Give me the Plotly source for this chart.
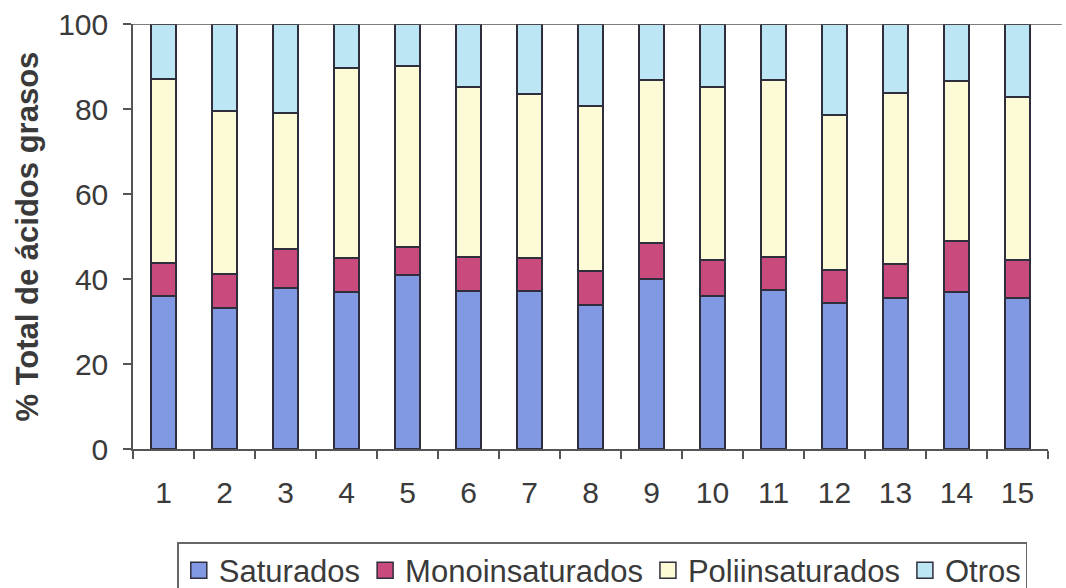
import plotly.graph_objects as go

categories = [str(i) for i in range(1, 16)]
saturados = [36.0, 33.1, 38.0, 37.0, 40.9, 37.2, 37.2, 33.9, 39.9, 36.0, 37.4, 34.4, 35.6, 37.0, 35.5]
monoinsaturados = [7.8, 8.1, 9.0, 8.0, 6.7, 8.0, 7.7, 8.0, 8.5, 8.5, 7.7, 7.7, 7.9, 11.9, 9.0]
poliinsaturados = [43.3, 38.4, 32.0, 44.6, 42.6, 40.0, 38.6, 38.9, 38.4, 40.6, 41.7, 36.5, 40.2, 37.8, 38.3]
otros = [12.9, 20.4, 21.0, 10.4, 9.8, 14.8, 16.5, 19.2, 13.2, 14.9, 13.2, 21.4, 16.3, 13.3, 17.2]
y_ticks = [0, 20, 40, 60, 80, 100]

series = [
    ("Saturados", saturados, "#8199e2"),
    ("Monoinsaturados", monoinsaturados, "#c94a7c"),
    ("Poliinsaturados", poliinsaturados, "#fdfad6"),
    ("Otros", otros, "#bde6f5"),
]
edge = "#2e2e3c"
txt = "#3a3a3a"
font_family = "Liberation Sans, Arial, sans-serif"

fig = go.Figure()
for name, vals, col in series:
    fig.add_trace(go.Bar(
        x=categories, y=vals, name=name, showlegend=False,
        marker=dict(color=col, line=dict(color=edge, width=2)),
        width=0.42,
    ))
# legend entries with larger square swatches
for name, vals, col in series:
    fig.add_trace(go.Scatter(
        x=[None], y=[None], name=name, mode="markers",
        marker=dict(symbol="square", size=16, color=col, line=dict(color=edge, width=1.5)),
    ))

fig.update_layout(
    barmode="stack",
    width=1066, height=588,
    margin=dict(l=133, r=18, t=24, b=139),
    paper_bgcolor="white", plot_bgcolor="white",
    font=dict(family=font_family, color=txt, size=30),
    showlegend=True,
    legend=dict(
        orientation="h", xref="container", yref="container",
        x=0.565, xanchor="center", y=1 - 542 / 588, yanchor="top",
        bordercolor="#666666", borderwidth=1.5,
        font=dict(size=31, color=txt, family=font_family),
        traceorder="normal", itemwidth=30,
    ),
    xaxis=dict(
        type="category", tickson="boundaries", ticks="outside", ticklen=8,
        tickcolor="#555555", tickwidth=1.5,
        showline=True, linecolor="#555555", linewidth=1.5,
        showgrid=False, ticklabelstandoff=16, automargin=False,
        tickfont=dict(size=30, color=txt),
    ),
    yaxis=dict(
        range=[0, 100], tickvals=y_ticks, ticks="outside", ticklen=8,
        tickcolor="#555555", tickwidth=1.5,
        showline=True, linecolor="#555555", linewidth=1.5,
        showgrid=False, zeroline=False, ticklabelstandoff=9, automargin=False,
        tickfont=dict(size=30, color=txt),
    ),
    annotations=[dict(
        text="<b>% Total de ácidos grasos</b>", textangle=-90,
        xref="paper", yref="paper", x=(27 - 133) / 915, y=0.5,
        xanchor="center", yanchor="middle", showarrow=False,
        font=dict(size=31, color=txt, family=font_family),
    )],
)
fig.add_shape(type="line", xref="paper", yref="y", x0=0, x1=1.015, y0=100, y1=100,
              line=dict(color="#555555", width=1.5))

fig.write_html("out.html")
